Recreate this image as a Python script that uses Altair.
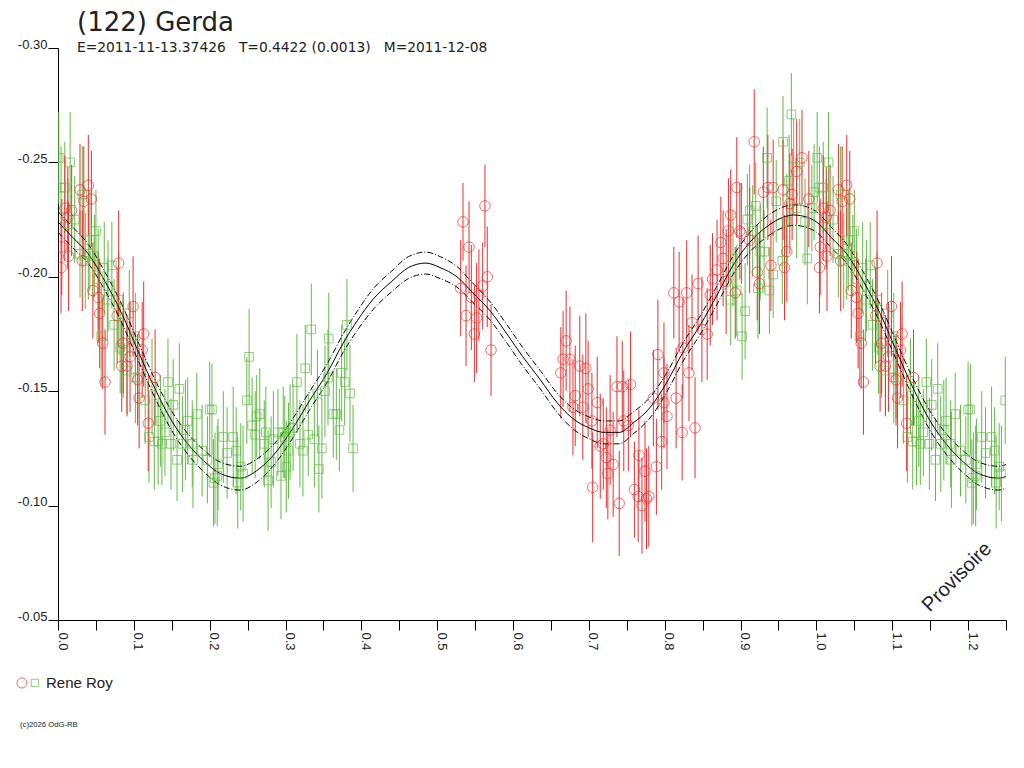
import altair as alt
import pandas as pd

NB = "\u00a0"
TITLE = "(122) Gerda"
SUBTITLE = ("E=2011-11-13.37426" + NB * 3 + "T=0.4422 (0.0013)" + NB * 3 + "M=2011-12-08")
OBSERVER = "Rene Roy"
COPYRIGHT = "(c)2026 OdG-RB"
STAMP = "Provisoire"

RED = "#ee2e2e"
GREEN = "#62bb45"

x_ticks = [0.0, 0.05, 0.1, 0.15, 0.2, 0.25, 0.3, 0.35, 0.4, 0.45, 0.5, 0.55, 0.6,
           0.65, 0.7, 0.75, 0.8, 0.85, 0.9, 0.95, 1.0, 1.05, 1.1, 1.15, 1.2, 1.25]
y_ticks = [-0.30, -0.25, -0.20, -0.15, -0.10, -0.05]

# Fourier fit (one period)
fit_phase = [0.000, 0.020, 0.040, 0.062, 0.084, 0.105, 0.128, 0.150, 0.171, 0.194,
             0.214, 0.240, 0.265, 0.289, 0.310, 0.332, 0.355, 0.376, 0.395, 0.415,
             0.440, 0.462, 0.485, 0.504, 0.526, 0.547, 0.570, 0.592, 0.613, 0.636,
             0.658, 0.679, 0.700, 0.720, 0.740, 0.758, 0.781, 0.803, 0.824, 0.847,
             0.869, 0.890, 0.912, 0.935, 0.956, 0.970, 0.988]
fit_mag = [-0.224, -0.217, -0.210, -0.198, -0.184, -0.168, -0.151, -0.137, -0.127, -0.119,
           -0.114, -0.112, -0.116, -0.124, -0.134, -0.146, -0.158, -0.171, -0.181, -0.190,
           -0.198, -0.204, -0.206, -0.204, -0.200, -0.193, -0.185, -0.175, -0.165, -0.155,
           -0.145, -0.138, -0.134, -0.132, -0.132, -0.136, -0.143, -0.154, -0.167, -0.179,
           -0.192, -0.205, -0.215, -0.222, -0.226, -0.227, -0.226]
fit_halfwidth = [0.0045, 0.0045, 0.0042, 0.0040, 0.0040, 0.0040, 0.0040, 0.0042, 0.0045, 0.0048,
                 0.0050, 0.0052, 0.0050, 0.0045, 0.0042, 0.0040, 0.0040, 0.0040, 0.0042, 0.0045,
                 0.0045, 0.0048, 0.0048, 0.0048, 0.0045, 0.0042, 0.0040, 0.0040, 0.0040, 0.0040,
                 0.0042, 0.0045, 0.0048, 0.0050, 0.0050, 0.0048, 0.0045, 0.0042, 0.0040, 0.0040,
                 0.0040, 0.0040, 0.0042, 0.0045, 0.0045, 0.0045, 0.0045]

green_phase = [0.001, 0.016, 0.004, 0.009, 0.032, 0.022, 0.013, 0.050, 0.042, 0.029,
               0.040, 0.048, 0.036, 0.061, 0.071, 0.053, 0.066, 0.065, 0.080, 0.094,
               0.074, 0.057, 0.102, 0.082, 0.086, 0.091, 0.102, 0.105, 0.145, 0.160,
               0.124, 0.115, 0.152, 0.183, 0.200, 0.171, 0.135, 0.168, 0.141, 0.120,
               0.127, 0.132, 0.137, 0.149, 0.164, 0.177, 0.190, 0.157, 0.178, 0.197,
               0.211, 0.210, 0.205,
               0.203, 0.252, 0.249, 0.266, 0.262, 0.256, 0.260, 0.218, 0.231, 0.235,
               0.223, 0.207, 0.241, 0.244, 0.237, 0.272, 0.274, 0.284, 0.290, 0.297,
               0.299, 0.306, 0.310, 0.281, 0.277, 0.294, 0.301, 0.304, 0.319, 0.323,
               0.315, 0.326, 0.334, 0.330, 0.338, 0.342, 0.352, 0.348, 0.344, 0.357,
               0.356, 0.363, 0.367, 0.371, 0.374, 0.378, 0.381, 0.385, 0.389,
               0.956, 0.935, 0.970, 0.978, 0.964, 0.947, 0.997, 0.920, 0.912, 0.974,
               0.994, 0.909, 0.961, 0.985, 0.916, 0.931, 0.926, 0.955, 0.988, 0.890,
               0.943, 0.895, 0.923, 0.938, 0.887, 0.906, 0.902, 0.967]
green_mag = [-0.252, -0.250, -0.239, -0.239, -0.236, -0.225, -0.223, -0.220, -0.216, -0.210,
             -0.210, -0.209, -0.207, -0.204, -0.205, -0.199, -0.196, -0.190, -0.190, -0.184,
             -0.179, -0.174, -0.174, -0.169, -0.168, -0.159, -0.156, -0.156, -0.154, -0.151,
             -0.152, -0.146, -0.144, -0.140, -0.142, -0.137, -0.137, -0.133, -0.132, -0.130,
             -0.128, -0.128, -0.127, -0.127, -0.127, -0.127, -0.124, -0.120, -0.120, -0.120,
             -0.118, -0.113, -0.110,
             -0.142, -0.165, -0.146, -0.140, -0.139, -0.135, -0.131, -0.130, -0.130, -0.124,
             -0.123, -0.112, -0.117, -0.114, -0.110, -0.127, -0.132, -0.129, -0.132, -0.132,
             -0.130, -0.132, -0.134, -0.119, -0.111, -0.113, -0.117, -0.124, -0.127, -0.124,
             -0.154, -0.160, -0.177, -0.131, -0.129, -0.149, -0.150, -0.125, -0.116, -0.173,
             -0.156, -0.140, -0.140, -0.133, -0.158, -0.154, -0.179, -0.149, -0.125,
             -0.259, -0.252, -0.248, -0.250, -0.242, -0.233, -0.237, -0.231, -0.229, -0.230,
             -0.230, -0.225, -0.224, -0.224, -0.220, -0.211, -0.211, -0.207, -0.208, -0.208,
             -0.201, -0.194, -0.195, -0.194, -0.190, -0.185, -0.174, -0.271]
green_err = [0.020, 0.022, 0.018, 0.020, 0.021, 0.019, 0.020, 0.018, 0.022, 0.019,
             0.020, 0.018, 0.021, 0.020, 0.019, 0.022, 0.020, 0.018, 0.021, 0.019,
             0.020, 0.022, 0.019, 0.020, 0.021, 0.019, 0.020, 0.018, 0.019, 0.020,
             0.021, 0.019, 0.020, 0.018, 0.021, 0.019, 0.020, 0.022, 0.019, 0.020,
             0.021, 0.019, 0.018, 0.020, 0.021, 0.019, 0.020, 0.018, 0.021, 0.019,
             0.020, 0.022, 0.019,
             0.020, 0.021, 0.019, 0.020, 0.018, 0.021, 0.019, 0.020, 0.022, 0.019,
             0.020, 0.020, 0.019, 0.021, 0.020, 0.019, 0.020, 0.021, 0.019, 0.020,
             0.018, 0.021, 0.019, 0.020, 0.022, 0.019, 0.020, 0.021, 0.019, 0.020,
             0.021, 0.019, 0.020, 0.018, 0.021, 0.019, 0.020, 0.022, 0.019, 0.020,
             0.021, 0.019, 0.020, 0.018, 0.021, 0.019, 0.020, 0.021, 0.019,
             0.020, 0.022, 0.021, 0.019, 0.020, 0.018, 0.021, 0.019, 0.020, 0.022,
             0.019, 0.020, 0.021, 0.019, 0.020, 0.018, 0.021, 0.019, 0.020, 0.021,
             0.019, 0.020, 0.022, 0.019, 0.020, 0.021, 0.019, 0.018]

red_phase = [0.040, 0.029, 0.034, 0.044, 0.009, 0.018, 0.013, 0.005, 0.014, 0.004,
             0.032, 0.080, 0.046, 0.053, 0.099, 0.055, 0.078, 0.113, 0.059, 0.086,
             0.111, 0.095, 0.084, 0.091, 0.128, 0.062, 0.105, 0.107, 0.119,
             0.534, 0.563, 0.542, 0.566, 0.531, 0.560, 0.545, 0.555, 0.538, 0.552,
             0.549, 0.571,
             0.670, 0.666, 0.675, 0.663, 0.688, 0.696, 0.699, 0.682, 0.711, 0.692,
             0.679,
             0.819, 0.836, 0.849, 0.856, 0.824, 0.791, 0.832, 0.737, 0.744, 0.755,
             0.785, 0.815, 0.799, 0.803, 0.704, 0.746, 0.752, 0.728, 0.823, 0.840,
             0.719, 0.715, 0.796, 0.723, 0.766, 0.732, 0.789, 0.774, 0.725, 0.705,
             0.760, 0.779, 0.765, 0.740, 0.770, 0.776,
             0.918, 0.981, 0.895, 0.930, 0.936, 0.943, 0.956, 0.968, 0.974, 0.990,
             0.965, 0.887, 0.884, 0.899, 0.901, 0.874, 0.912, 0.877, 0.961, 0.940,
             0.958, 0.922, 0.869, 0.863, 0.881, 0.844, 0.925, 0.812, 0.829, 0.860,
             0.893, 0.799]
red_mag = [-0.240, -0.238, -0.233, -0.234, -0.230, -0.229, -0.226, -0.213, -0.209, -0.204,
           -0.207, -0.206, -0.194, -0.191, -0.187, -0.184, -0.183, -0.175, -0.171, -0.171,
           -0.168, -0.165, -0.161, -0.161, -0.156, -0.154, -0.155, -0.147, -0.136,
           -0.224, -0.231, -0.213, -0.200, -0.195, -0.196, -0.191, -0.192, -0.183, -0.182,
           -0.175, -0.168,
           -0.172, -0.164, -0.164, -0.158, -0.161, -0.160, -0.151, -0.148, -0.145, -0.143,
           -0.143,
           -0.189, -0.180, -0.177, -0.175, -0.169, -0.166, -0.158, -0.152, -0.152, -0.153,
           -0.147, -0.147, -0.145, -0.139, -0.137, -0.137, -0.135, -0.133, -0.132, -0.134,
           -0.127, -0.126, -0.128, -0.121, -0.122, -0.118, -0.117, -0.115, -0.114, -0.108,
           -0.107, -0.104, -0.104, -0.101, -0.100, -0.103,
           -0.259, -0.252, -0.239, -0.237, -0.239, -0.239, -0.238, -0.236, -0.246, -0.234,
           -0.232, -0.227, -0.220, -0.220, -0.219, -0.215, -0.216, -0.208, -0.211, -0.205,
           -0.204, -0.202, -0.203, -0.199, -0.198, -0.197, -0.197, -0.193, -0.193, -0.192,
           -0.193, -0.158]
red_err = [0.022, 0.020, 0.024, 0.021, 0.023, 0.020, 0.022, 0.021, 0.024, 0.020,
           0.022, 0.023, 0.021, 0.020, 0.022, 0.024, 0.021, 0.023, 0.020, 0.022,
           0.021, 0.024, 0.020, 0.022, 0.021, 0.023, 0.020, 0.022, 0.021,
           0.017, 0.018, 0.020, 0.022, 0.021, 0.019, 0.023, 0.020, 0.022, 0.024,
           0.021, 0.020,
           0.022, 0.021, 0.023, 0.020, 0.022, 0.024, 0.021, 0.022, 0.020, 0.023,
           0.021,
           0.022, 0.021, 0.023, 0.020, 0.022, 0.024, 0.021, 0.022, 0.020, 0.023,
           0.021, 0.022, 0.020, 0.023, 0.021, 0.022, 0.020, 0.024, 0.021, 0.022,
           0.020, 0.023, 0.021, 0.022, 0.020, 0.023, 0.021, 0.022, 0.020, 0.024,
           0.021, 0.022, 0.020, 0.023, 0.021, 0.022,
           0.023, 0.021, 0.022, 0.020, 0.023, 0.021, 0.022, 0.020, 0.023, 0.021,
           0.022, 0.020, 0.023, 0.021, 0.022, 0.020, 0.023, 0.021, 0.022, 0.020,
           0.023, 0.021, 0.022, 0.020, 0.023, 0.021, 0.022, 0.020, 0.023, 0.022,
           0.020, 0.022]


def obs_frame(phase, mag, err):
    rows = []
    for p, m, e in zip(phase, mag, err):
        for shift in (0.0, 1.0):
            q = p + shift
            if q <= 1.25:
                rows.append({"phase": q, "mag": m, "lo": m - e, "hi": m + e})
    return pd.DataFrame(rows)


green_df = obs_frame(green_phase, green_mag, green_err)
red_df = obs_frame(red_phase, red_mag, red_err)

fit_rows = []
for shift in (0.0, 1.0):
    for p, m, h in zip(fit_phase, fit_mag, fit_halfwidth):
        fit_rows.append({"phase": p + shift, "mag": m, "upper": m - h, "lower": m + h})
fit_rows.append({"phase": 2.0, "mag": fit_mag[0], "upper": fit_mag[0] - fit_halfwidth[0],
                 "lower": fit_mag[0] + fit_halfwidth[0]})
fit_df = pd.DataFrame(fit_rows)

FONT = "Liberation Sans"
WIDE = "DejaVu Sans"

x_scale = alt.Scale(domain=[0, 1.25], nice=False, zero=False)
y_scale = alt.Scale(domain=[-0.30, -0.05], reverse=True, nice=False, zero=False)

x_axis = alt.Axis(values=x_ticks, title=None, grid=False, tickSize=10, tickColor="black",
                  domainColor="black", labelAngle=90, labelAlign="left",
                  labelBaseline="alphabetic", labelPadding=2, labelFontSize=13,
                  labelFont=FONT, labelColor="#222222", labelOverlap=False,
                  labelExpr="round(datum.value*100) % 10 == 0 ? format(datum.value, '.1f') : ''")
y_axis = alt.Axis(values=y_ticks, title=None, grid=False, tickSize=10,
                  tickColor="black", domainColor="black", labelAlign="right",
                  labelBaseline="alphabetic", labelPadding=1, labelFontSize=13,
                  labelFont=FONT, labelColor="#222222",
                  labelExpr="replace(format(datum.value, '.2f'), '\u2212', '-')")

X = alt.X("phase:Q", scale=x_scale, axis=x_axis)


def Y(field):
    return alt.Y(field, scale=y_scale, axis=y_axis)


fit_base = alt.Chart(fit_df)
fit_line = fit_base.mark_line(color="black", strokeWidth=1, clip=True, interpolate="monotone").encode(
    x=X, y=Y("mag:Q"))
fit_up = fit_base.mark_line(color="black", strokeWidth=1, clip=True, interpolate="monotone",
                            strokeDash=[6, 2, 1, 2]).encode(x=X, y=Y("upper:Q"))
fit_lo = fit_base.mark_line(color="black", strokeWidth=1, clip=True, interpolate="monotone",
                            strokeDash=[6, 2, 1, 2]).encode(x=X, y=Y("lower:Q"))

green_bars = alt.Chart(green_df).mark_rule(color=GREEN, strokeWidth=1, clip=True).encode(
    x=X, y=Y("lo:Q"), y2="hi:Q")
red_bars = alt.Chart(red_df).mark_rule(color=RED, strokeWidth=1, clip=True).encode(
    x=X, y=Y("lo:Q"), y2="hi:Q")
green_pts = alt.Chart(green_df).mark_point(shape="square", filled=False, color=GREEN,
                                           size=75, strokeWidth=1, clip=True).encode(
    x=X, y=Y("mag:Q"))
red_pts = alt.Chart(red_df).mark_point(shape="circle", filled=False, color=RED,
                                       size=110, strokeWidth=1, clip=True).encode(
    x=X, y=Y("mag:Q"))

title_mark = alt.Chart(pd.DataFrame({"t": [TITLE]})).mark_text(
    align="left", baseline="alphabetic", fontSize=26, font=WIDE, color="#222222").encode(
    x=alt.value(19), y=alt.value(-17), text="t:N")
subtitle_mark = alt.Chart(pd.DataFrame({"t": [SUBTITLE]})).mark_text(
    align="left", baseline="alphabetic", fontSize=13.8, font=WIDE, color="#222222").encode(
    x=alt.value(19), y=alt.value(4), text="t:N")
leg_circle = alt.Chart(pd.DataFrame({"t": [OBSERVER]})).mark_point(
    shape="circle", filled=False, color=RED, size=100, strokeWidth=1).encode(
    x=alt.value(-36), y=alt.value(635))
leg_square = alt.Chart(pd.DataFrame({"t": [OBSERVER]})).mark_point(
    shape="square", filled=False, color=GREEN, size=55, strokeWidth=1).encode(
    x=alt.value(-23), y=alt.value(635))
leg_text = alt.Chart(pd.DataFrame({"t": [OBSERVER]})).mark_text(
    align="left", baseline="middle", fontSize=15, font=FONT, color="#222222").encode(
    x=alt.value(-12), y=alt.value(635), text="t:N")
copy_text = alt.Chart(pd.DataFrame({"t": [COPYRIGHT]})).mark_text(
    align="left", baseline="middle", fontSize=7.7, font=FONT, color="#222222").encode(
    x=alt.value(-38), y=alt.value(677), text="t:N")
stamp_text = alt.Chart(pd.DataFrame({"t": [STAMP]})).mark_text(
    align="center", baseline="middle", fontSize=20, font=FONT, color="#222222", angle=315).encode(
    x=alt.value(899), y=alt.value(529), text="t:N")

chart = alt.layer(
    green_bars, red_bars, fit_line, fit_up, fit_lo, green_pts, red_pts,
    title_mark, subtitle_mark, leg_circle, leg_square, leg_text, copy_text, stamp_text,
).properties(
    width=948, height=572,
    autosize=alt.AutoSizeParams(type="none"),
    padding={"left": 50, "top": 40, "right": 10, "bottom": 130},
    background="white",
).configure_view(stroke=None)

chart.save("out.html", embed_options={"renderer": "svg", "actions": False})
